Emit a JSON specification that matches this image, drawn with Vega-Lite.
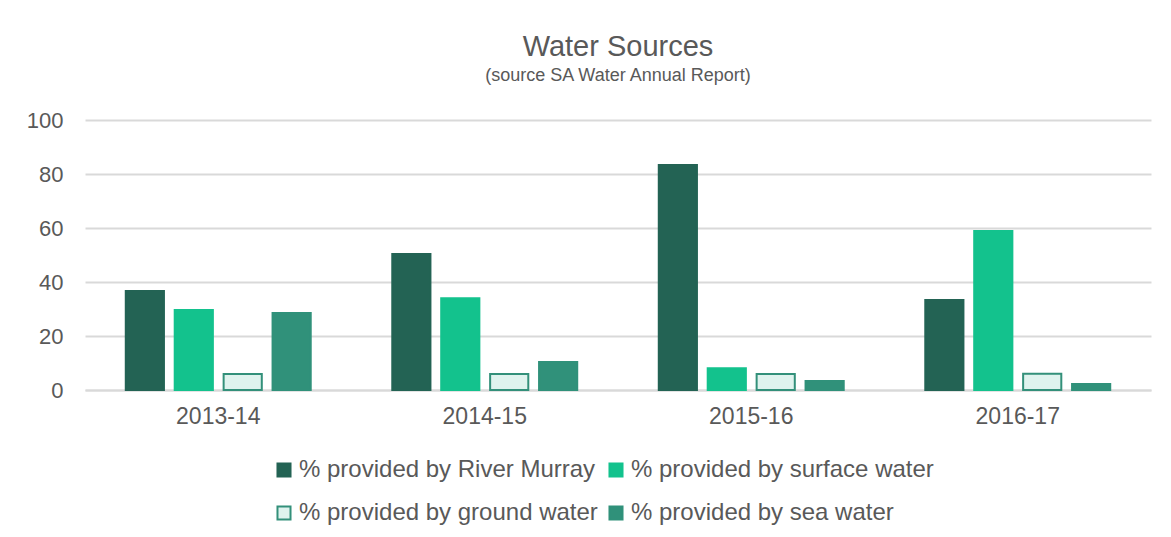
{
  "$schema": "https://vega.github.io/schema/vega-lite/v6.json",
  "width": 1066,
  "height": 270,
  "autosize": {"type": "none"},
  "padding": {"left": 85, "top": 120, "right": 20, "bottom": 147},
  "background": "white",
  "title": {
    "text": "Water Sources",
    "subtitle": "(source SA Water Annual Report)",
    "anchor": "middle",
    "font": "Liberation Sans",
    "fontSize": 29,
    "fontWeight": "normal",
    "color": "#595959",
    "subtitleFont": "Liberation Sans",
    "subtitleFontSize": 18,
    "subtitleColor": "#595959",
    "subtitlePadding": 5,
    "offset": 24
  },
  "config": {
    "font": "Liberation Sans",
    "view": {"stroke": null}
  },
  "data": {
    "values": [
      {"year": "2013-14", "source": "% provided by River Murray", "value": 36.7},
      {"year": "2013-14", "source": "% provided by surface water", "value": 29.6},
      {"year": "2013-14", "source": "% provided by ground water", "value": 5.9},
      {"year": "2013-14", "source": "% provided by sea water", "value": 28.5},
      {"year": "2014-15", "source": "% provided by River Murray", "value": 50.4},
      {"year": "2014-15", "source": "% provided by surface water", "value": 34.0},
      {"year": "2014-15", "source": "% provided by ground water", "value": 5.9},
      {"year": "2014-15", "source": "% provided by sea water", "value": 10.4},
      {"year": "2015-16", "source": "% provided by River Murray", "value": 83.3},
      {"year": "2015-16", "source": "% provided by surface water", "value": 8.1},
      {"year": "2015-16", "source": "% provided by ground water", "value": 5.9},
      {"year": "2015-16", "source": "% provided by sea water", "value": 3.3},
      {"year": "2016-17", "source": "% provided by River Murray", "value": 33.3},
      {"year": "2016-17", "source": "% provided by surface water", "value": 58.9},
      {"year": "2016-17", "source": "% provided by ground water", "value": 6.0},
      {"year": "2016-17", "source": "% provided by sea water", "value": 2.2}
    ]
  },
  "mark": {"type": "bar", "strokeWidth": 2},
  "encoding": {
    "x": {
      "field": "year",
      "type": "nominal",
      "scale": {"paddingInner": 0.306, "paddingOuter": 0.153},
      "axis": {
        "title": null,
        "labelAngle": 0,
        "labelFontSize": 23,
        "labelColor": "#595959",
        "labelPadding": 15,
        "ticks": false,
        "domain": true,
        "domainColor": "#d9d9d9",
        "domainWidth": 2
      }
    },
    "xOffset": {
      "field": "source",
      "type": "nominal",
      "scale": {
        "domain": ["% provided by River Murray", "% provided by surface water", "% provided by ground water", "% provided by sea water"],
        "paddingInner": 0.22,
        "paddingOuter": 0
      }
    },
    "y": {
      "field": "value",
      "type": "quantitative",
      "scale": {"domain": [0, 100]},
      "axis": {
        "title": null,
        "values": [0, 20, 40, 60, 80, 100],
        "labelFontSize": 22,
        "labelColor": "#595959",
        "labelPadding": 22,
        "ticks": false,
        "domain": false,
        "gridColor": "#d9d9d9",
        "gridWidth": 2
      }
    },
    "fill": {
      "field": "source",
      "type": "nominal",
      "scale": {
        "domain": ["% provided by River Murray", "% provided by surface water", "% provided by ground water", "% provided by sea water"],
        "range": ["#236354", "#13C28D", "#DFF3EE", "#30917A"]
      },
      "legend": {
        "title": null,
        "orient": "none",
        "legendX": 187,
        "legendY": 338,
        "columns": 2,
        "direction": "horizontal",
        "symbolType": "square",
        "symbolSize": 170,
        "symbolStrokeWidth": 2,
        "labelFontSize": 24,
        "labelColor": "#595959",
        "labelOffset": 3,
        "columnPadding": 6,
        "rowPadding": 19,
        "labelLimit": 400
      }
    },
    "stroke": {
      "field": "source",
      "type": "nominal",
      "scale": {
        "domain": ["% provided by River Murray", "% provided by surface water", "% provided by ground water", "% provided by sea water"],
        "range": ["#236354", "#13C28D", "#33907A", "#30917A"]
      },
      "legend": {
        "title": null,
        "orient": "none",
        "legendX": 187,
        "legendY": 338,
        "columns": 2,
        "direction": "horizontal",
        "symbolType": "square",
        "symbolSize": 170,
        "symbolStrokeWidth": 2,
        "labelFontSize": 24,
        "labelColor": "#595959",
        "labelOffset": 3,
        "columnPadding": 6,
        "rowPadding": 19,
        "labelLimit": 400
      }
    }
  }
}
